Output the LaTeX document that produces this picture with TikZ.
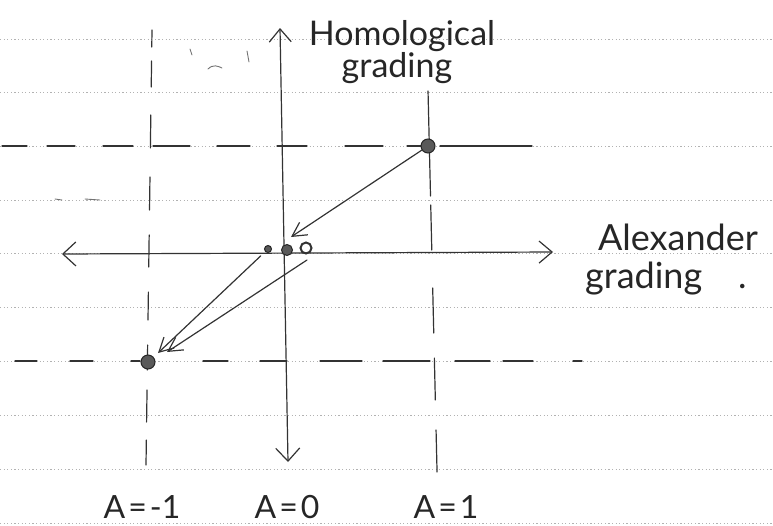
\documentclass[tikz,border=0pt]{standalone}
\usepackage{fontspec}
\setmainfont{Lato}
\usetikzlibrary{arrows.meta}
\begin{document}
\begin{tikzpicture}[x=1pt,y=-1pt,
  pen/.style={draw=black!80, line width=1.2pt, line cap=round},
  faint/.style={draw=black!55, line width=0.9pt, line cap=round},
  rule/.style={draw=black!30, line width=0.6pt, dash pattern=on 1.2pt off 2.4pt},
  axis/.style={pen, {Straight Barb[length=13pt,width=24pt,line width=1.2pt]}-{Straight Barb[length=13pt,width=22pt,line width=1.2pt]}},
  arr/.style={pen, -{Straight Barb[length=14pt,width=15pt,line width=1.2pt]}},
  bigdot/.style={circle, fill=black!65, draw=black!85, line width=1pt, inner sep=0pt, minimum size=#1},
  ring/.style={circle, draw=black!80, line width=2pt, inner sep=0pt, minimum size=#1},
  lab/.style={font=\fontsize{34}{36}\selectfont, text=black!85, inner sep=0pt, anchor=base},
  alab/.style={font=\fontsize{32}{34}\selectfont, text=black!85, inner sep=0pt, anchor=base}
]
\useasboundingbox (0,0) rectangle (773,525);
% ruled notebook lines
\foreach \y in {39,92,146,200,253,307,361,415,469,523}
  \draw[rule] (0,\y) -- (773,\y);
% dashed grid lines (hand drawn dashes)
\foreach \a/\b in {2/27,47/75,103/133,153/190,217/250,277/307,345/383,407/421,440/532}
  \draw[pen] (\a,146) -- (\b,146);
\foreach \a/\b in {15/37,70/93,131/140,203/228,260/287,320/362,383/430,455/490,503/533,573/582}
  \draw[pen] (\a,361) -- (\b,361);
\foreach \a/\b in {30/47,61/87,115/148,177/210,235/267,292/320,345/370,390/422,440/465}
  \draw[pen] ({152-6*(\a-30)/435},\a) -- ({152-6*(\b-30)/435},\b);
\foreach \a/\b in {91/141,151/196,205/250,288/333,358/400,430/472}
  \draw[pen] ({428+9*(\a-90)/380},\a) -- ({428+9*(\b-90)/380},\b);
% stray marks
\draw[faint] (55,199) -- (62,200);
\draw[faint] (85,199) -- (100,200);
\draw[faint] (190,49) -- (192,55);
\draw[faint] (208,69) .. controls (213,64) and (218,66) .. (222,68);
\draw[faint] (247,51) -- (249,62);
% axes
\coordinate (hl) at (62,254);
\coordinate (hr) at (553,252);
\coordinate (vt) at (280,28);
\coordinate (vb) at (288,462);
\draw[axis] (hl) -- (hr);
\draw[axis] (vb) -- (vt);
% generators
\node[bigdot=14pt] (p1) at (428,146) {};
\node[bigdot=14pt] (p2) at (148,362) {};
\node[bigdot=7pt] (d1) at (268,249) {};
\node[bigdot=11pt] (d2) at (287,250) {};
\node[ring=11pt] (d3) at (306,248) {};
% differentials
\coordinate (t1) at (291,237);
\coordinate (t2) at (158,353);
\coordinate (s3) at (307,260);
\coordinate (t3) at (167,352);
\draw[arr] (p1) -- (t1);
\draw[arr, shorten <=6pt] (d1) -- (t2);
\draw[arr] (s3) -- (t3);
% labels
\node[lab] (hom) at (402,45) {Homological};
\node[lab] (hgr) at (397,77) {grading};
\node[lab, font=\fontsize{36}{38}\selectfont] (alx) at (678,250) {Alexander};
\node[lab, font=\fontsize{36}{38}\selectfont, anchor=base west] (agr) at (585,288) {grading\hspace{36pt}.};
\node[alab] (am) at (142,518) {A\hspace{3pt}=\hspace{3pt}-1};
\node[alab] (a0) at (287,518) {A\hspace{3pt}=\hspace{3pt}0};
\node[alab] (a1) at (446,518) {A\hspace{3pt}=\hspace{3pt}1};
\end{tikzpicture}
\end{document}
